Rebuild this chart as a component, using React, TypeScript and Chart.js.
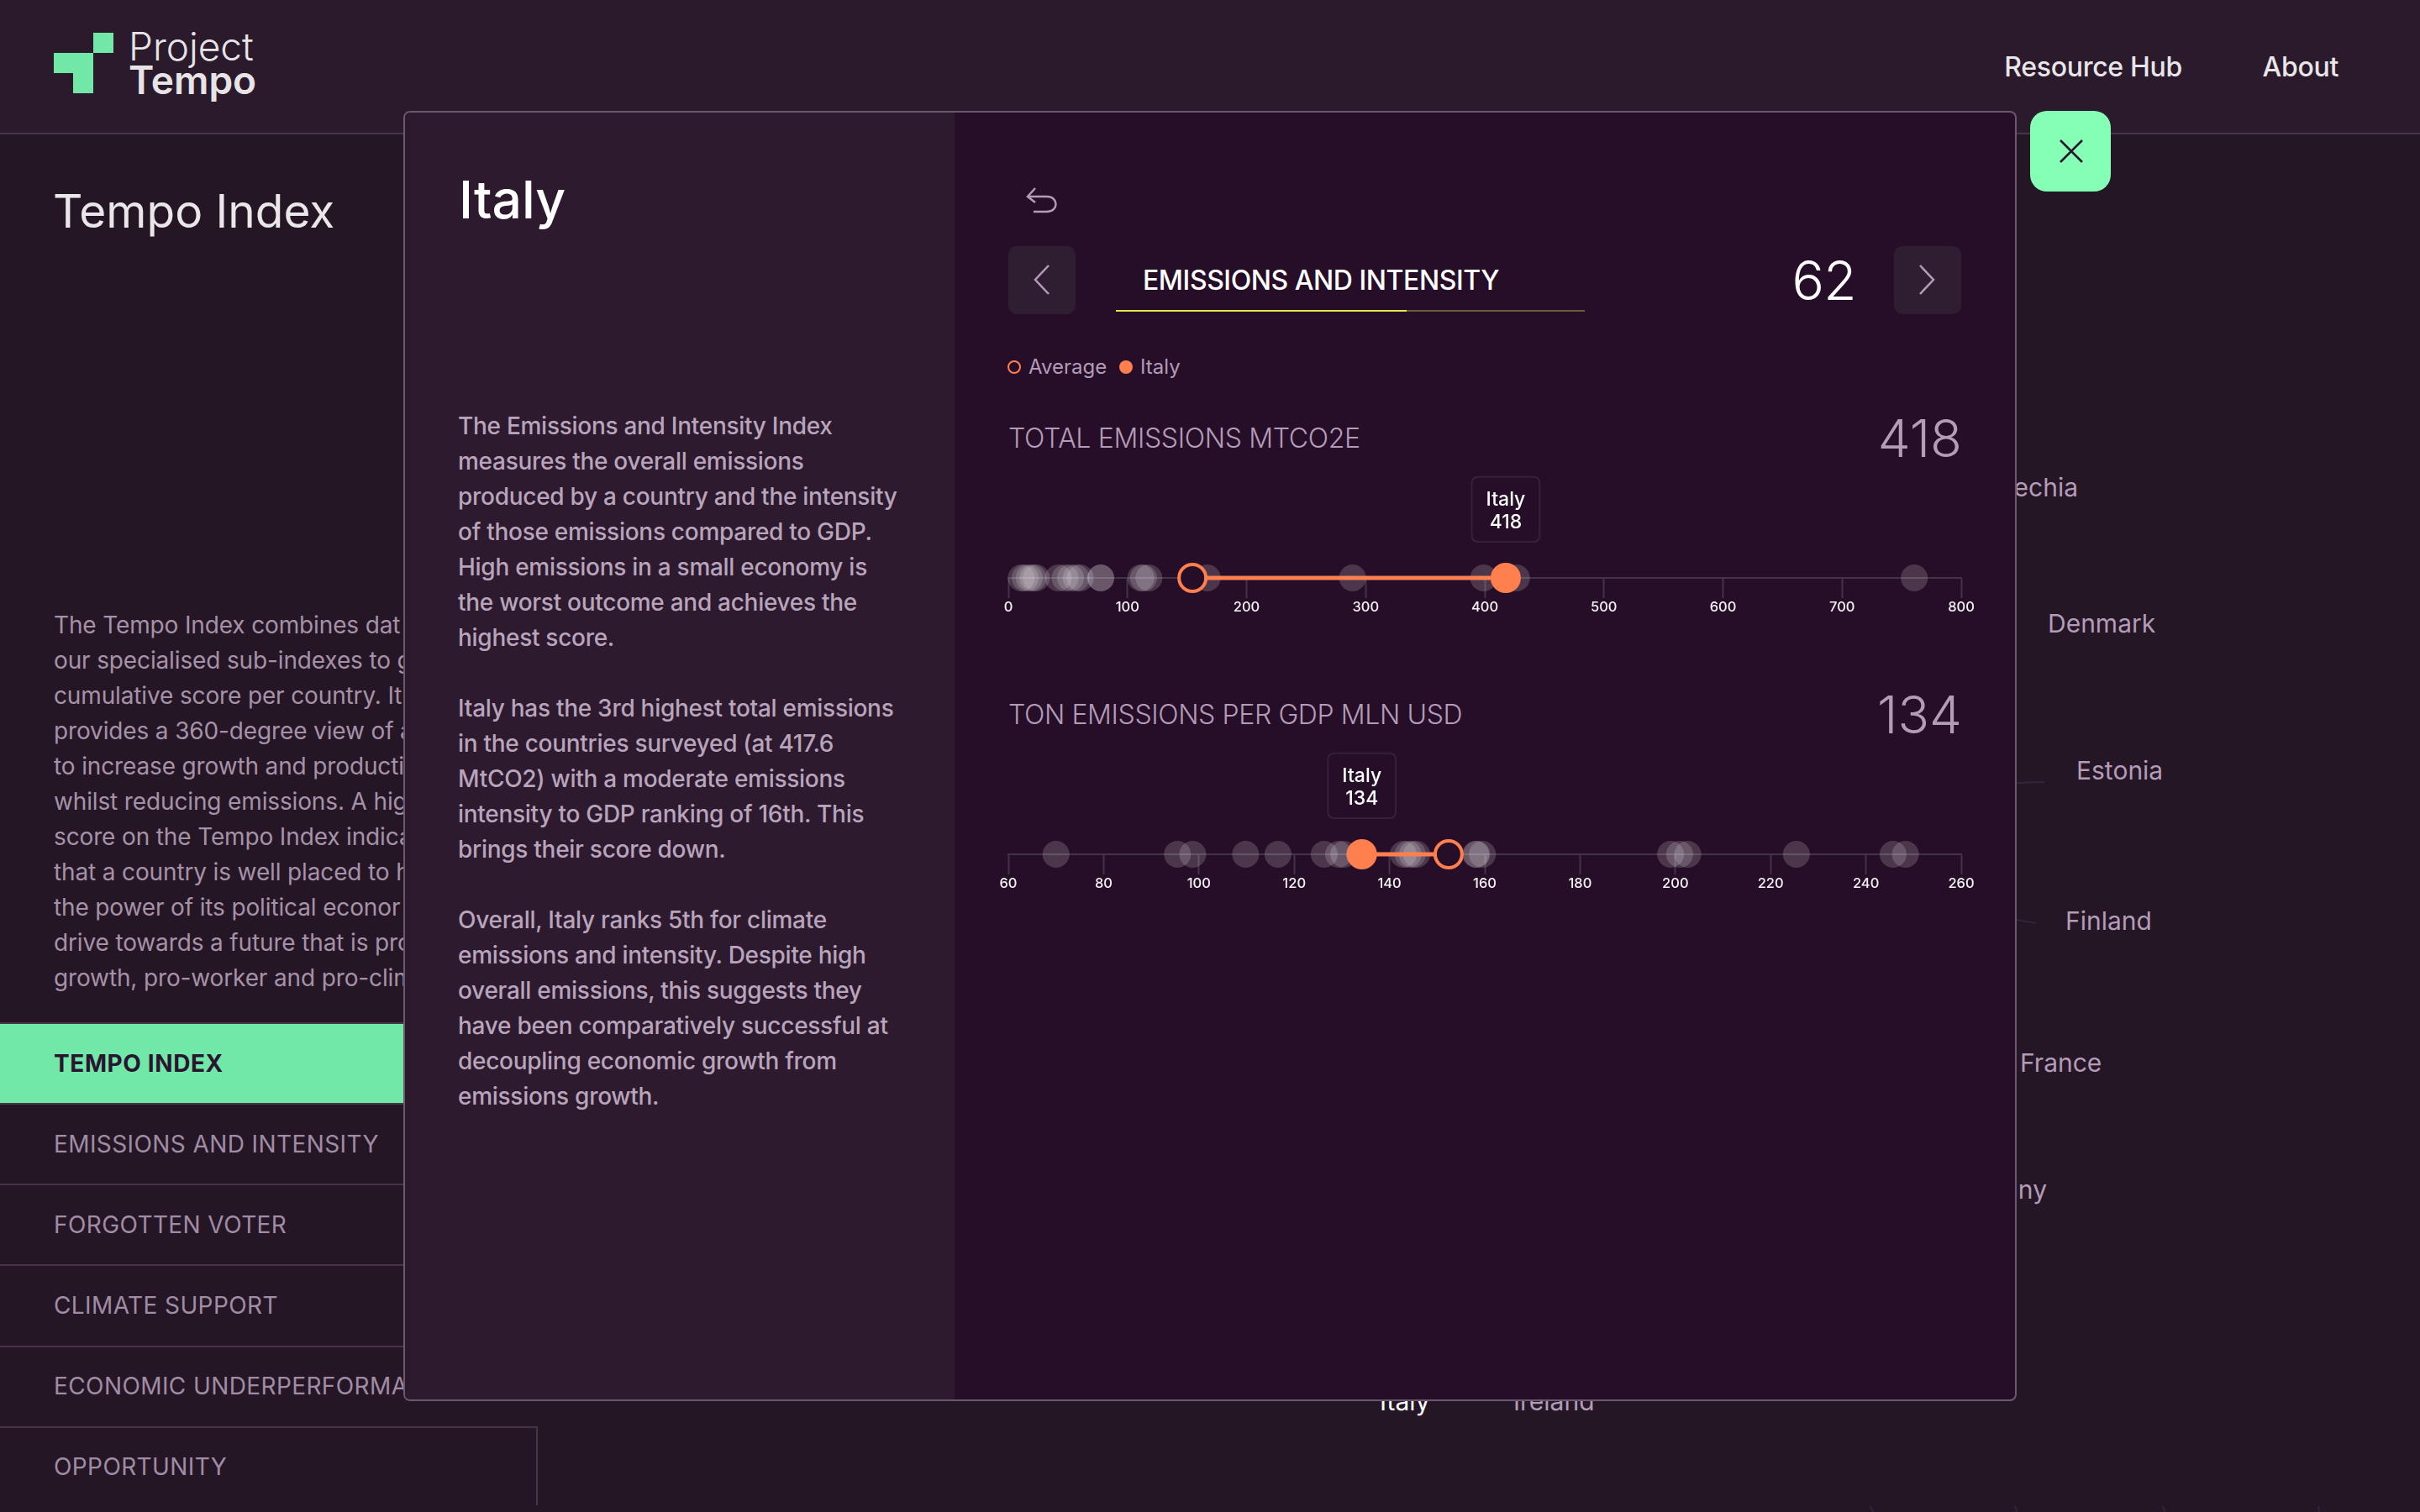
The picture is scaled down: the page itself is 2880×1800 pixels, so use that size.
import React, { useEffect, useRef } from "react";
import { Chart, registerables } from "chart.js";

Chart.register(...registerables);

const totalEmissionsOthers = [10.8, 14.1, 17.6, 20.7, 23.5, 41.9, 47.7, 52.2, 56.9, 60.4, 77.6, 77.6, 111.2, 113.5, 118, 167, 289, 399, 426.6, 760.6];
const emissionsPerGdpOthers = [70, 95.5, 98.7, 109.8, 116.6, 126.3, 129.3, 130.4, 133.7, 142.9, 143.9, 144.8, 145.7, 158.1, 158.3, 159.5, 199, 200.9, 202.6, 225.4, 245.7, 248.3];
const italyValues = [417.6, 134.2];
const averageValues = [154.6, 152.4];
const axisRanges = [[0, 800, 100], [60, 260, 20]];
const countryName = "Italy";

const FONT = "Inter, 'Noto Sans', sans-serif";
const ORANGE = "#ff7f4f";
const PANEL = "#270e28";
const MUTED = "#b39cb8";
const SIDE = "#a592a8";

const leftPara = [
  "The Emissions and Intensity Index", "measures the overall emissions", "produced by a country and the intensity",
  "of those emissions compared to GDP.", "High emissions in a small economy is", "the worst outcome and achieves the",
  "highest score.", "", "Italy has the 3rd highest total emissions", "in the countries surveyed (at 417.6",
  "MtCO2) with a moderate emissions", "intensity to GDP ranking of 16th. This", "brings their score down.", "",
  "Overall, Italy ranks 5th for climate", "emissions and intensity. Despite high", "overall emissions, this suggests they",
  "have been comparatively successful at", "decoupling economic growth from", "emissions growth.",
];
const sidePara = [
  "The Tempo Index combines dat", "our specialised sub-indexes to g", "cumulative score per country. It",
  "provides a 360-degree view of a", "to increase growth and producti", "whilst reducing emissions. A hig",
  "score on the Tempo Index indica", "that a country is well placed to h", "the power of its political econor",
  "drive towards a future that is pro", "growth, pro-worker and pro-clim",
];
const menuItems = ["EMISSIONS AND INTENSITY", "FORGOTTEN VOTER", "CLIMATE SUPPORT", "ECONOMIC UNDERPERFORMANCE", "OPPORTUNITY"];

function T({ x, r, cy, size, color, weight = 400, ls = 0, children }: any) {
  const lh = Math.round(size * 1.4);
  const st: any = {
    position: "absolute", top: cy - lh / 2, lineHeight: lh + "px", fontSize: size, color, fontWeight: weight,
    fontFamily: FONT, whiteSpace: "pre", letterSpacing: ls,
  };
  if (r !== undefined) st.right = 2880 - r; else st.left = x;
  return <div style={st}>{children}</div>;
}

function Box({ x, y, w, h, bg, radius = 0, extra = {} }: any) {
  return <div style={{ position: "absolute", left: x, top: y, width: w, height: h, background: bg, borderRadius: radius, ...extra }} />;
}

function Strip({ top, idx }: any) {
  const ref = useRef<HTMLCanvasElement | null>(null);
  useEffect(() => {
    const others = idx === 0 ? totalEmissionsOthers : emissionsPerGdpOthers;
    const [min, max, step] = axisRanges[idx];
    const toPts = (a: number[]) => a.map((x) => ({ x, y: 0 }));
    const chart = new Chart(ref.current as HTMLCanvasElement, {
      type: "scatter",
      data: {
        datasets: [
          { label: countryName, data: toPts([italyValues[idx]]), pointRadius: 18, backgroundColor: ORANGE, borderWidth: 0, clip: false },
          { label: "Average", data: toPts([averageValues[idx]]), pointRadius: 16, backgroundColor: PANEL, borderColor: ORANGE, borderWidth: 4, clip: false },
          { label: "Gap", data: toPts([averageValues[idx], italyValues[idx]]), showLine: true, pointRadius: 0, borderColor: ORANGE, borderWidth: 5, clip: false },
          { label: "Countries", data: toPts(others), pointRadius: 16, backgroundColor: "rgba(255,255,255,0.17)", borderWidth: 0, clip: false },
        ],
      } as any,
      options: {
        responsive: false,
        animation: false,
        devicePixelRatio: 1,
        events: [],
        layout: { padding: { left: 50, right: 50, top: 0, bottom: 0 } },
        scales: {
          y: { display: false, min: 0, max: 1 },
          x: {
            type: "linear", min, max,
            afterFit: (s: any) => { s.height = 62; },
            border: { color: "#433248", width: 2 },
            grid: { drawOnChartArea: false, drawTicks: true, tickLength: 24, tickColor: "#433248", tickWidth: 2, color: "#433248" },
            ticks: { stepSize: step, autoSkip: false, maxRotation: 0, padding: 1, color: "#f4f2f4", font: { family: "Inter", size: 16.5, weight: 500 } },
          },
        },
        plugins: {
          legend: { display: false },
          title: { display: false },
          tooltip: {
            enabled: true,
            backgroundColor: PANEL,
            borderColor: "#352238",
            borderWidth: 2,
            cornerRadius: 8,
            caretSize: 0,
            caretPadding: 43,
            displayColors: false,
            xAlign: "center",
            yAlign: "bottom",
            padding: { left: 17, right: 17, top: 13, bottom: 9 },
            titleAlign: "center",
            bodyAlign: "center",
            titleColor: "#ffffff",
            bodyColor: "#ffffff",
            titleMarginBottom: 0,
            titleFont: { family: "Inter", size: 23, weight: 500 },
            bodyFont: { family: "Inter", size: 23, weight: 500 },
            callbacks: {
              title: () => countryName,
              label: (ctx: any) => String(Math.round(ctx.parsed.x)),
            },
          },
        },
      } as any,
    });
    (chart as any).tooltip.setActiveElements([{ datasetIndex: 0, index: 0 }], { x: 0, y: 0 });
    chart.draw();
    return () => chart.destroy();
  }, [idx]);
  return <canvas ref={ref} width={1234} height={190} style={{ position: "absolute", left: 1150, top, width: 1234, height: 190, display: "block" }} />;
}

export default function App() {
  return (
    <div style={{ position: "fixed", left: 0, top: 0, width: 2880, height: 1800, overflow: "hidden", background: "#251626" }}>
      {/* page header */}
      <Box x={0} y={0} w={2880} h={158} bg="#2a1a2c" />
      <Box x={0} y={158} w={2880} h={2} bg="#463549" />
      <Box x={111} y={39} w={24} h={24} bg="#72e8a8" />
      <Box x={64} y={63} w={47} h={24} bg="#72e8a8" />
      <Box x={87} y={87} w={24} h={24} bg="#72e8a8" />
      <div style={{ position: "absolute", left: 153, top: 34.5, fontFamily: FONT, fontSize: 46, lineHeight: "40px", color: "#e6e4e6", whiteSpace: "pre", fontWeight: 300 }}>
        Project
        <br />
        <span style={{ fontWeight: 600 }}>Tempo</span>
      </div>
      <T r={2597} cy={79} size={32} weight={500} ls={-0.3} color="#e8e6e8">Resource Hub</T>
      <T r={2783} cy={79} size={32} weight={500} ls={-0.3} color="#e8e6e8">About</T>

      {/* page sidebar */}
      <T x={63} cy={251} size={55} weight={400} ls={0} color="#e9e7e9">Tempo Index</T>
      {sidePara.map((s, i) => <T key={i} x={64} cy={744 + i * 42} size={28} ls={-0.14} color={SIDE}>{s}</T>)}
      <Box x={0} y={1217} w={480} h={2} bg="#463549" />
      <Box x={0} y={1219} w={480} h={94} bg="#72e8a8" />
      <T x={64} cy={1266} size={28} weight={700} ls={0.6} color="#2a1530">TEMPO INDEX</T>
      {menuItems.map((s, i) => <T key={s} x={64} cy={1362 + i * 96} size={28} ls={0.4} color="#a08ca4">{s}</T>)}
      {[1313, 1409, 1505, 1602, 1698].map((y) => <Box key={y} x={0} y={y} w={639} h={2} bg="#463549" />)}
      <Box x={638} y={1698} w={2} h={94} bg="#463549" />

      {/* background radar labels */}
      <T r={2473} cy={580} size={30} color={MUTED}>Czechia</T>
      <T x={2437} cy={742} size={30} color={MUTED}>Denmark</T>
      <T x={2471} cy={917} size={30} color={MUTED}>Estonia</T>
      <T x={2458} cy={1096} size={30} color={MUTED}>Finland</T>
      <T x={2404} cy={1265} size={30} color={MUTED}>France</T>
      <T r={2436} cy={1416} size={30} color={MUTED}>Germany</T>
      <T x={1642} cy={1668} size={30} color="#ffffff">Italy</T>
      <T x={1801} cy={1668} size={30} color={MUTED}>Ireland</T>
      <svg width={2880} height={1800} style={{ position: "absolute", left: 0, top: 0 }}>
        <g stroke="#33243a" strokeWidth={2} fill="none">
          <path d="M2400 932 L2433 931" />
          <path d="M2400 1095 L2423 1099" />
          <path d="M2226 1793 L2229 1800" />
          <path d="M2398 1793 L2400 1800" />
          <path d="M2574 1793 L2576 1800" />
          <path d="M2759 1793 L2760 1800" />
        </g>
      </svg>

      {/* close button */}
      <Box x={2416} y={132} w={96} h={96} bg="#84ffb5" radius={20} />
      <svg width={28} height={28} style={{ position: "absolute", left: 2451, top: 166 }}>
        <path d="M1 1 L27 27 M27 1 L1 27" stroke="#2a1530" strokeWidth={2.5} fill="none" />
      </svg>

      {/* modal */}
      <div style={{ position: "absolute", left: 480, top: 132, width: 1920, height: 1536, boxSizing: "border-box", border: "2px solid #6a5770", borderRadius: 8, background: PANEL, overflow: "hidden" }}>
        <Box x={0} y={0} w={654} h={1532} bg="#2d1a2f" />
      </div>
      <T x={546} cy={237} size={62.5} weight={500} color="#ffffff">Italy</T>
      {leftPara.map((s, i) => <T key={i} x={545} cy={507 + i * 42} size={28} weight={500} ls={-0.28} color="#b8a4bb">{s}</T>)}

      {/* back icon */}
      <svg width={40} height={34} style={{ position: "absolute", left: 1220, top: 222 }}>
        <path d="M12 2 L3 12 L12 19 M3 12 L26 12 C40 12 40 30 26 30 L10 30" stroke={MUTED} strokeWidth={2.5} fill="none" />
      </svg>

      {/* pager */}
      <Box x={1200} y={293} w={80} h={81} bg="#2f1e31" radius={10} />
      <svg width={24} height={40} style={{ position: "absolute", left: 1229, top: 314 }}>
        <path d="M19 2 L3 19 L19 36" stroke={MUTED} strokeWidth={2.5} fill="none" />
      </svg>
      <T x={1360} cy={333.5} size={32} weight={500} ls={-0.44} color="#ffffff">EMISSIONS AND INTENSITY</T>
      <Box x={1328} y={369} w={558} h={2} bg="#6b5d3a" />
      <Box x={1328} y={369} w={346} h={2} bg="#e6e84f" />
      <T r={2209} cy={334} size={64} weight={300} ls={-0.6} color="#ffffff">62</T>
      <Box x={2254} y={293} w={80} h={81} bg="#2f1e31" radius={10} />
      <svg width={24} height={40} style={{ position: "absolute", left: 2280, top: 314 }}>
        <path d="M5 2 L21 19 L5 36" stroke={MUTED} strokeWidth={2.5} fill="none" />
      </svg>

      {/* legend */}
      <Box x={1199} y={429} w={16} h={16} bg="transparent" radius={8} extra={{ border: `2.5px solid ${ORANGE}`, boxSizing: "border-box" }} />
      <T x={1224} cy={437} size={24} color={MUTED}>Average</T>
      <Box x={1332} y={429} w={16} h={16} bg={ORANGE} radius={8} />
      <T x={1357} cy={437} size={24} color={MUTED}>Italy</T>

      {/* metric 1 */}
      <T x={1200} cy={521.5} size={32} weight={300} ls={-0.34} color={MUTED}>TOTAL EMISSIONS MTCO2E</T>
      <T r={2335} cy={521} size={62} weight={300} color={MUTED}>418</T>
      <Strip idx={0} top={560} />

      {/* metric 2 */}
      <T x={1200} cy={850} size={32} weight={300} ls={-0.38} color={MUTED}>TON EMISSIONS PER GDP MLN USD</T>
      <T r={2335} cy={850} size={62} weight={300} color={MUTED}>134</T>
      <Strip idx={1} top={889} />
    </div>
  );
}
